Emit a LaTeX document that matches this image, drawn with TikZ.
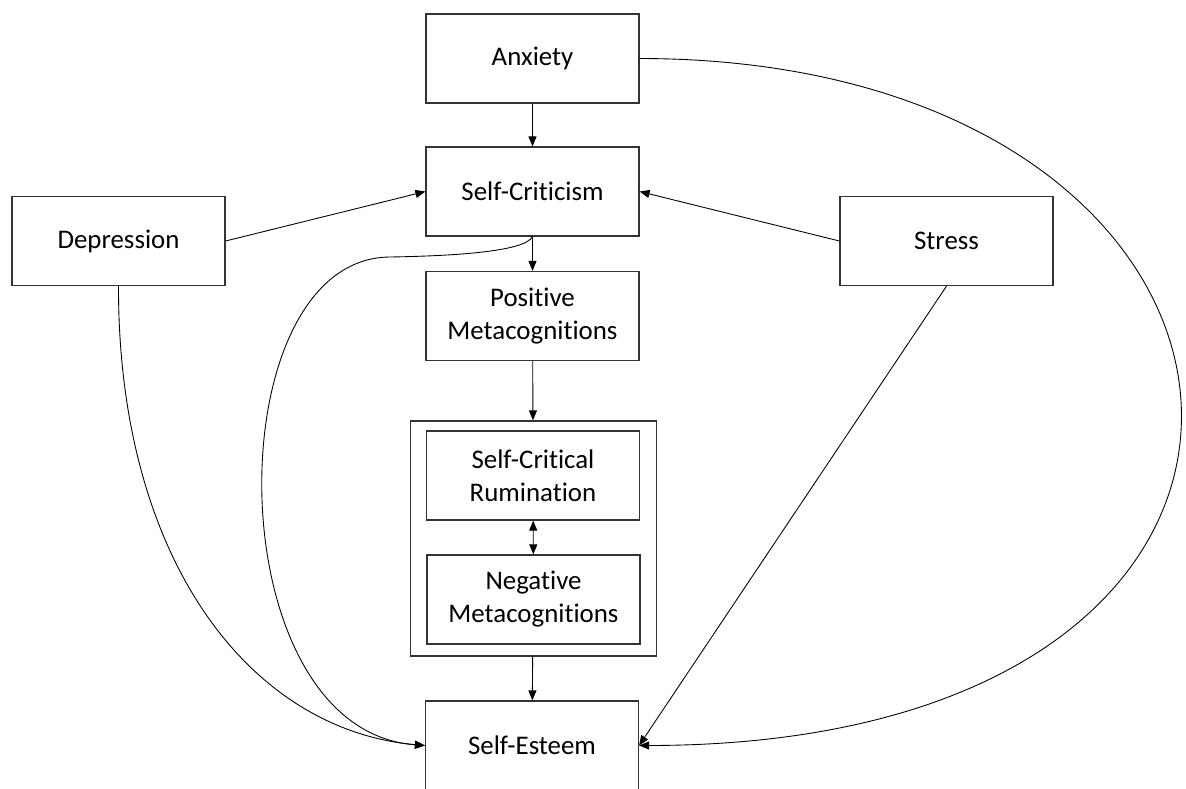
\documentclass[tikz,border=0pt]{standalone}
\usepackage{fontspec}
\setmainfont{Carlito}[Ligatures=NoCommon]
\usetikzlibrary{arrows.meta}
\tikzset{
	box/.style={draw=black!80, line width=0.7pt, inner sep=0pt, align=center,
		minimum width=4.26cm, minimum height=1.78cm,
		font=\fontsize{15.3}{18.8}\selectfont},
	frame/.style={draw=black!80, line width=0.7pt, inner sep=0pt,
		minimum width=4.92cm, minimum height=4.7cm}
}
\begin{document}
\begin{tikzpicture}[x=0.02cm, y=-0.02cm, line width=0.5pt, >={Triangle[length=2mm,width=1.6mm]}]
		\useasboundingbox (0,0) rectangle (1186,788);
		\node (An) at (532.5,58.5) [box] {Anxiety};
		\node (Sc) at (532.5,191.5) [box] {Self-Criticism} edge [<-] (An);
		\node (Pm) at (532.5,316) [box] {Positive\\Metacognitions} edge [<-] (Sc);
		\node (Bx) at (533.5,538.5) [frame] {} edge [<-] (Pm);
		\node (Sr) at (533,475.5) [box] {Self-Critical\\Rumination};
		\node (Nm) at (533.5,599.5) [box] {Negative\\Metacognitions} edge [<->] (Sr);
		\node (Se) at (532,745.5) [box] {Self-Esteem} edge [<-] (Bx);
		\node (De) at (118.5,241) [box] {Depression};
		\node (St) at (946.5,241) [box] {Stress};
		\draw[->] (De.east) -- (Sc.west);
		\draw[->] (St.west) -- (Sc.east);
		\draw[->] (St.south) -- (Se.east);
		\draw[->] (De.south) .. controls (118,560) and (250,730) .. (Se.west);
		\draw[->] (Sc.south) .. controls (525,252) and (450,256) .. (390,257)
			.. controls (215,258) and (215,730) .. (Se.west);
		\draw[->] (An.east) .. controls (1325,59) and (1395,745) .. (Se.east);
	\end{tikzpicture}
\end{document}
